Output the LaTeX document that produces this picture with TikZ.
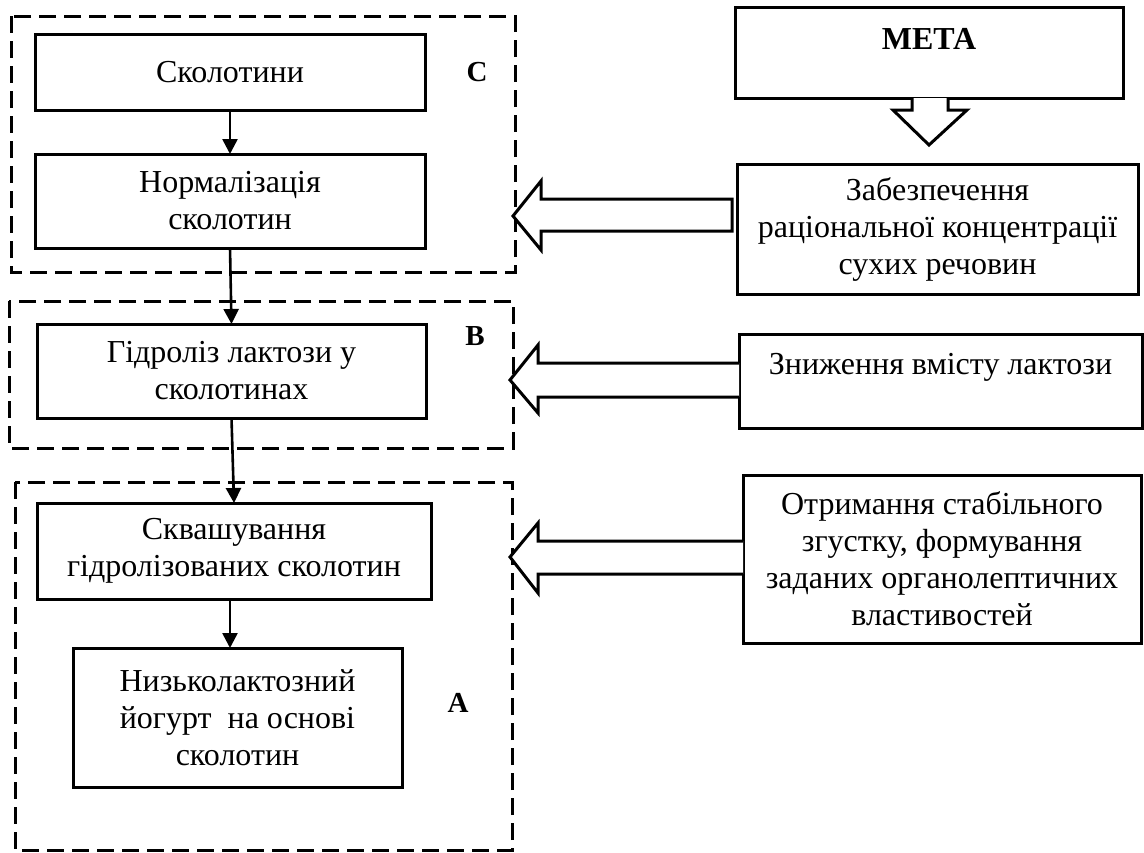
\documentclass[tikz,border=0pt]{standalone}
\usepackage{fontspec}
\setmainfont{Liberation Serif}
\usetikzlibrary{arrows.meta}
\tikzset{
  box/.style={draw, line width=3pt, rectangle, inner sep=0pt, outer sep=0pt, align=center, font=\fontsize{32}{37}\selectfont},
  txt/.style={inner sep=0pt, align=center, font=\fontsize{32}{37}\selectfont},
  lbl/.style={inner sep=0pt, font=\fontsize{29}{33}\selectfont\bfseries},
  group/.style={draw, line width=3pt, dash pattern=on 17pt off 8pt},
  conn/.style={line width=2.6pt, -{Triangle[length=15pt,width=15pt]}},
  blockarrow/.style={draw, line width=3pt, line join=miter, fill=white}
}
\begin{document}
\begin{tikzpicture}[x=1pt,y=-1pt]
\useasboundingbox (0,0) rectangle (1144,852);
% group frames
\draw[group] (11,16) rectangle (515,272);
\draw[group] (9,301) rectangle (513,448);
\draw[group] (15,482) rectangle (512,850);
\node[lbl] (lc) at (477,72) {C};
\node[lbl] (lb) at (475,336) {B};
\node[lbl] (la) at (458,703) {A};
% left boxes
\node[box, minimum width=390, minimum height=76] (sk) at (230,72) {Сколотини};
\node[box, minimum width=390, minimum height=94] (norm) at (230,201) {Нормалізація\\сколотин};
\node[box, minimum width=389, minimum height=94] (gid) at (231.5,371) {Гідроліз лактози у\\сколотинах};
\node[box, minimum width=394, minimum height=96] (skv) at (234,551) {Сквашування\\гідролізованих сколотин};
\node[box, minimum width=329, minimum height=139] (nyz) at (237.5,717.5) {Низьколактозний\\йогурт\ \ на основі\\сколотин};
% connectors
\draw[conn] (sk.south) -- (norm.north);
\draw[conn] (norm.south) -- (gid.north);
\draw[conn] (gid.south) -- (skv.north);
\draw[conn] (skv.south -| sk.south) -- (nyz.north -| sk.south);
% right boxes
\node[box, minimum width=388, minimum height=91] (meta) at (929,52.5) {};
\node[txt, font=\fontsize{32}{37}\selectfont\bfseries] (metat) at (929,38.5) {МЕТА};
\node[box, minimum width=401, minimum height=130] (zab) at (937.5,229) {Забезпечення\\раціональної концентрації\\сухих речовин};
\node[box, minimum width=403, minimum height=94] (zny) at (940.5,381) {};
\node[txt, anchor=base] (znyt) at (940.5,374) {Зниження вмісту лактози};
\node[box, minimum width=398, minimum height=168] (otr) at (942,559) {Отримання стабільного\\згустку, формування\\заданих органолептичних\\властивостей};
% block arrows
\draw[blockarrow] (912,98) -- (912,110) -- (893,110) -- (929,145) -- (967,110) -- (948,110) -- (948,98);
\draw[blockarrow] (732,199) -- (541,199) -- (541,181) -- (513,216) -- (541,250) -- (541,231) -- (732,231) -- cycle;
\draw[blockarrow] (zny.west |- 0,363) -- (538,363) -- (538,345) -- (510,380) -- (538,413) -- (538,397) -- (zny.west |- 0,397);
\draw[blockarrow] (otr.west |- 0,541) -- (538,541) -- (538,523) -- (510,557) -- (538,593) -- (538,574) -- (otr.west |- 0,574);
\end{tikzpicture}
\end{document}
